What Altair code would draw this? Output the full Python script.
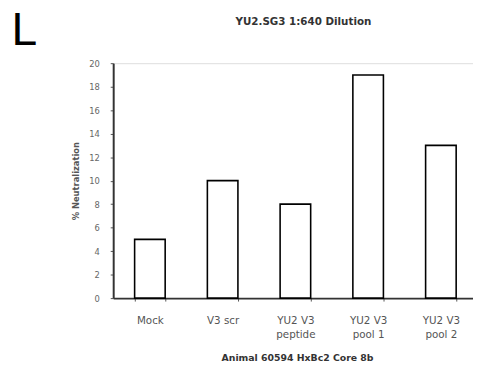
import altair as alt
import pandas as pd

categories = ["Mock", "V3 scr", "YU2 V3\npeptide", "YU2 V3\npool 1", "YU2 V3\npool 2"]
values = [5, 10, 8, 19, 13]
y_ticks = [0, 2, 4, 6, 8, 10, 12, 14, 16, 18, 20]
panel_label = ["L"]
chart_title = ["YU2.SG3 1:640 Dilution"]

df = pd.DataFrame({"cat": categories, "val": values})
lab = pd.DataFrame({"t": panel_label})
ttl = pd.DataFrame({"t": chart_title})

FONT = "DejaVu Sans"

bars = alt.Chart(df).mark_bar(fill="white", stroke="black", strokeWidth=1.6).encode(
    x=alt.X("cat:N", sort=categories,
            scale=alt.Scale(paddingInner=0.58, paddingOuter=0.263, align=0.56),
            axis=alt.Axis(title="Animal 60594 HxBc2 Core 8b", labelAngle=0,
                          labelExpr="split(datum.label, '\\n')",
                          labelFont=FONT, labelFontSize=10.5, labelColor="#555",
                          labelLineHeight=14.5, labelPadding=15, labelBaseline="top",
                          tickBand="extent", tickSize=3, tickColor="#555", tickWidth=1,
                          domainColor="#333", domainWidth=2,
                          titleFont=FONT, titleFontSize=9.5, titleFontWeight="bold",
                          titleColor="#333", titleX=187, titleY=63, titleBaseline="alphabetic",
                          titleAnchor="middle")),
    y=alt.Y("val:Q", scale=alt.Scale(domain=[0, 20], nice=False),
            axis=alt.Axis(title="% Neutralization", values=y_ticks, grid=False,
                          labelFont=FONT, labelFontSize=8.5, labelColor="#666",
                          labelPadding=11, tickSize=3, tickColor="#555",
                          domainColor="#333", domainWidth=2,
                          titleFont=FONT, titleFontSize=8.5, titleFontWeight="bold",
                          titleColor="#555", titleX=-38, titleY=119.5, titleAngle=-90,
                          titleBaseline="middle", titleAlign="center")),
)

letter = alt.Chart(lab).mark_text(font="Liberation Sans", fontSize=47, align="left",
                                  baseline="alphabetic", color="black").encode(
    x=alt.value(-103.5), y=alt.value(-18), text="t:N")

title = alt.Chart(ttl).mark_text(font=FONT, fontSize=10.5, fontWeight="bold",
                                 align="center", baseline="alphabetic", color="#333").encode(
    x=alt.value(193.5), y=alt.value(-39), text="t:N")

chart = alt.layer(bars, letter, title).properties(
    width=366, height=239,
    padding={"left": 107, "top": 53, "right": 0, "bottom": 70},
    autosize=alt.AutoSizeParams(type="none"),
).configure_view(stroke="#666", strokeWidth=1.5).configure(background="white")

chart.save("out.html", embed_options={"renderer": "svg", "actions": False})
